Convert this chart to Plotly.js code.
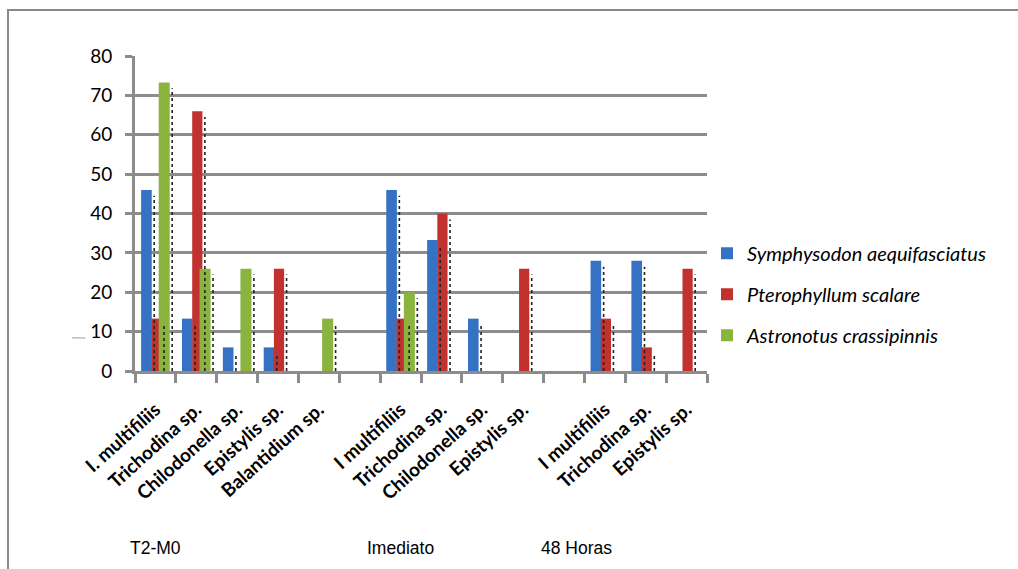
<!DOCTYPE html>
<html>
<head>
<meta charset="utf-8">
<script src="https://cdn.plot.ly/plotly-3.0.1.min.js"></script>
<style>
  html, body { margin: 0; padding: 0; background: #fff; }
  #wrap { position: relative; width: 1018px; height: 569px; overflow: hidden; }
  #chart { width: 1018px; height: 569px; }
  #frame {
    position: absolute; left: 7px; top: 9px; width: 1100px; height: 600px;
    border-left: 2px solid #8a8a8a; border-top: 2px solid #8a8a8a;
    pointer-events: none;
  }
</style>
</head>
<body>
<div id="wrap">
  <div id="chart"></div>
  <div id="frame"></div>
</div>
<script>
// Parasites found per sampling moment (empty slots separate the moments)
const categories = [
  'I. multifiliis', 'Trichodina sp.', 'Chilodonella sp.', 'Epistylis sp.', 'Balantidium sp.', '',
  'I multifiliis', 'Trichodina sp.', 'Chilodonella sp.', 'Epistylis sp.', '',
  'I multifiliis', 'Trichodina sp.', 'Epistylis sp.'
];
const moments = ['T2-M0', 'Imediato', '48 Horas'];
const momentPositions = [0, 6, 10.3];

const seriesNames = ['Symphysodon aequifasciatus', 'Pterophyllum scalare', 'Astronotus crassipinnis'];
const symphysodon  = [46, 13.3, 6, 6, 0, null, 46, 33.3, 13.3, 0, null, 28, 28, 0];
const pterophyllum = [13.3, 66, 0, 26, 0, null, 13.3, 40, 0, 26, null, 13.3, 6, 26];
const astronotus   = [73.3, 26, 26, 0, 13.3, null, 20, 0, 0, 0, null, 0, 0, 0];

const yTicks = [0, 10, 20, 30, 40, 50, 60, 70, 80];

const colors = ['#3672C4', '#C2312E', '#8AB43E'];
const offsets = [-0.35, -0.10, 0.08];
const widths  = [0.26, 0.25, 0.27];

const xIdx = categories.map((_, i) => i);
const labelIdx = xIdx.filter(i => categories[i] !== '');
const allSeries = [symphysodon, pterophyllum, astronotus];

const traces = [];

// dotted drop-shadow edge to the right of each bar
allSeries.forEach((vals, s) => {
  const xs = [], ys = [];
  vals.forEach((v, i) => {
    if (v) {
      const edge = i + offsets[s] + widths[s] + 0.06;
      xs.push(edge, edge, null);
      ys.push(0, Math.max(v - 1.5, 0), null);
    }
  });
  traces.push({
    type: 'scatter', mode: 'lines', x: xs, y: ys,
    line: { color: '#222', width: 1.6, dash: 'dot' },
    hoverinfo: 'skip', showlegend: false
  });
});

allSeries.forEach((vals, s) => {
  traces.push({
    type: 'bar',
    name: seriesNames[s],
    legendgroup: 'g' + s,
    x: xIdx,
    y: vals,
    offset: offsets[s],
    width: widths[s],
    marker: { color: colors[s], line: { width: 0 } }
  });
});

const annotations = moments.map((m, k) => ({
  text: m, xref: 'x', yref: 'paper', x: momentPositions[k], y: -0.562,
  showarrow: false, xanchor: 'center', yanchor: 'middle',
  font: { family: 'Liberation Sans, Arial, sans-serif', size: 17.5, color: '#000' }
}));

const layout = {
  width: 1018, height: 569,
  margin: { l: 135, r: 311, t: 56, b: 198, pad: 0 },
  paper_bgcolor: '#fff', plot_bgcolor: '#fff',
  barmode: 'overlay',
  showlegend: true,
  legend: {
    x: 1.0, xanchor: 'left', y: 0.244, yanchor: 'middle',
    font: { family: 'Lato, Open Sans, sans-serif', size: 20, style: 'italic', color: '#000' },
    itemwidth: 30, tracegroupgap: 12, bgcolor: 'rgba(0,0,0,0)', traceorder: 'grouped'
  },
  xaxis: {
    range: [-0.5, 13.5],
    tickmode: 'array', tickvals: labelIdx, ticktext: labelIdx.map(i => categories[i]),
    tickangle: -42, ticks: '', ticklabelstandoff: 17,
    tickfont: { family: 'Lato, Open Sans, sans-serif', size: 19, weight: 'bold', color: '#000' },
    showline: true, linecolor: '#8c8c8c', linewidth: 3,
    showgrid: false, zeroline: false,
    minor: { tick0: -0.5, dtick: 1, ticks: 'outside', ticklen: 9, tickwidth: 3, tickcolor: '#8c8c8c', showgrid: false }
  },
  yaxis: {
    range: [0, 80], tickmode: 'array', tickvals: yTicks,
    ticks: 'outside', ticklen: 7, tickwidth: 3, tickcolor: '#8c8c8c',
    ticklabelstandoff: 9,
    tickfont: { family: 'Lato, Open Sans, sans-serif', size: 19, color: '#000' },
    showline: true, linecolor: '#8c8c8c', linewidth: 3,
    showgrid: true, gridcolor: '#8c8c8c', gridwidth: 3, zeroline: false
  },
  annotations: annotations,
  shapes: [{
    type: 'line', xref: 'paper', yref: 'paper',
    x0: -0.11, x1: -0.087, y0: 0.105, y1: 0.105,
    line: { color: '#9a9a9a', width: 1 }
  }]
};

Plotly.newPlot('chart', traces, layout, { displayModeBar: false, staticPlot: true });
</script>
</body>
</html>
